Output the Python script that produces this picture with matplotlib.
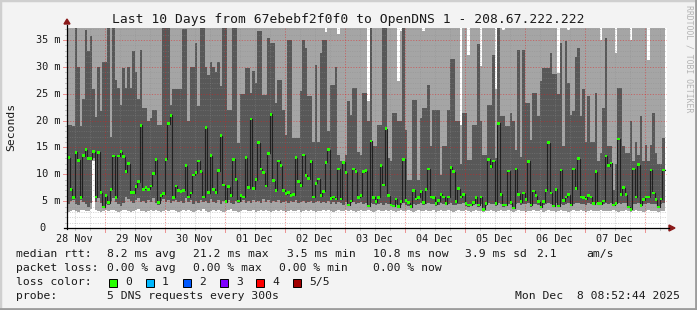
import numpy as np
import matplotlib
matplotlib.use("Agg")
import matplotlib.pyplot as plt
from matplotlib.patches import Rectangle, Polygon

W, H = 697, 310

# hourly columns, 28 Nov 08:52 -> 08 Dec 08:52 (ms)
median = [
    13.1, 7.2, 5.7, 14.1, 12.6, 5.7, 13.5, 14.6, 12.9, 12.9, 14.2, 5.8, 14.1, 6.6, 3.9, 6.0, 4.7, 7.2, 13.4, 5.7, 13.4, 14.2, 13.3, 10.5,
    12.0, 6.6, 6.6, 7.7, 8.6, 19.1, 7.2, 7.5, 7.2, 7.8, 10.1, 12.7, 4.7, 6.0, 6.4, 12.8, 19.4, 21.0, 5.7, 7.8, 7.0, 6.8, 7.0, 11.6,
    5.8, 6.5, 9.9, 10.3, 12.5, 10.5, 5.8, 18.7, 6.6, 13.5, 7.2, 6.6, 10.7, 17.2, 8.0, 4.9, 7.7, 6.0, 12.8, 9.0, 5.0, 6.0, 5.8, 13.1,
    7.5, 20.3, 7.3, 9.0, 15.9, 11.0, 10.3, 7.8, 13.9, 21.2, 8.8, 7.0, 12.5, 11.6, 7.0, 6.4, 6.6, 6.1, 6.2, 13.1, 8.6, 7.9, 13.6, 9.8,
    9.2, 12.4, 5.8, 8.3, 9.1, 6.0, 6.8, 12.2, 14.6, 5.5, 5.8, 5.4, 11.0, 5.4, 12.2, 10.3, 4.3, 5.0, 11.0, 10.5, 5.7, 6.0, 10.5, 10.7,
    4.1, 16.2, 5.7, 4.9, 5.7, 11.6, 8.0, 18.5, 6.0, 4.3, 4.1, 5.4, 4.0, 4.9, 12.8, 5.1, 4.7, 4.0, 7.0, 5.4, 5.7, 6.8, 4.7, 7.2,
    11.0, 5.8, 5.7, 4.5, 5.1, 6.3, 5.8, 4.5, 5.8, 11.3, 10.5, 4.9, 7.3, 5.8, 6.3, 4.5, 4.3, 4.3, 4.7, 5.7, 4.3, 5.8, 3.5, 4.5,
    12.8, 11.4, 12.5, 4.5, 19.5, 6.3, 4.3, 4.3, 10.6, 4.7, 3.7, 11.0, 6.3, 4.9, 6.5, 5.3, 12.4, 4.3, 6.9, 6.0, 4.9, 3.9, 4.9, 7.0,
    15.9, 6.5, 4.1, 7.2, 4.1, 10.8, 5.1, 5.8, 6.2, 4.3, 11.0, 7.3, 12.9, 5.8, 5.7, 5.4, 6.0, 5.8, 4.5, 10.5, 4.5, 4.5, 5.0, 13.4,
    11.6, 12.1, 4.3, 4.6, 16.6, 6.2, 7.5, 6.2, 3.9, 3.5, 11.0, 5.8, 11.8, 4.2, 5.3, 5.8, 5.8, 10.8, 6.5, 5.3, 3.9, 5.4, 10.8,
]
# fastest ping (bottom of smoke)
ping_lo = [
    3.0, 3.2, 3.3, 3.1, 3.0, 3.3, 3.4, 3.2, 3.2, 3.5, 12.5, 3.3, 3.1, 3.0, 3.2, 3.4, 3.1, 3.3, 3.4, 3.2, 3.0, 3.1, 3.3, 3.4,
    3.2, 3.0, 3.1, 3.3, 3.5, 3.2, 3.1, 3.0, 3.2, 3.3, 3.1, 3.4, 3.2, 3.0, 3.1, 3.3, 3.2, 3.4, 3.3, 3.1, 3.0, 3.2, 3.3, 3.1,
    3.4, 3.2, 3.0, 3.1, 3.3, 3.2, 3.5, 3.1, 3.0, 3.2, 3.3, 3.1, 3.4, 3.2, 3.0, 3.1, 3.3, 3.6, 3.2, 3.1, 3.0, 3.2, 3.3, 3.4,
    3.2, 3.1, 3.3, 3.0, 3.2, 3.4, 3.1, 3.3, 3.2, 3.0, 3.1, 3.3, 3.2, 3.4, 3.1, 3.0, 3.2, 3.3, 3.1, 3.2, 3.4, 3.0, 3.1, 3.3,
    3.1, 3.3, 3.2, 3.0, 3.2, 3.1, 3.4, 3.2, 3.3, 3.1, 3.0, 3.2, 3.3, 3.1, 3.2, 3.4, 3.1, 3.3, 3.2, 3.0, 3.1, 3.3, 3.2, 3.1,
    3.3, 3.2, 3.0, 3.1, 3.3, 3.2, 3.1, 3.4, 3.2, 3.3, 3.1, 3.0, 3.2, 3.3, 3.1, 3.2, 3.4, 3.1, 3.0, 3.2, 3.3, 3.1, 3.2, 3.3,
    3.2, 3.1, 3.3, 3.0, 3.2, 3.3, 3.1, 3.2, 3.4, 3.1, 3.0, 3.2, 3.3, 3.1, 3.2, 3.3, 3.1, 3.0, 3.2, 3.3, 3.1, 3.2, 3.0, 3.2,
    3.1, 3.3, 3.2, 3.0, 3.1, 3.3, 3.2, 3.1, 3.4, 3.2, 3.0, 3.1, 3.3, 3.2, 3.1, 3.0, 3.2, 3.1, 3.3, 3.2, 3.1, 3.3, 3.0, 3.2,
    3.3, 3.1, 3.2, 3.0, 3.2, 3.3, 3.1, 3.2, 3.0, 3.1, 3.3, 3.2, 3.1, 3.4, 3.2, 3.0, 3.1, 3.3, 3.2, 3.1, 3.2, 3.3, 3.1, 3.2,
    3.2, 3.1, 3.3, 3.2, 3.0, 3.1, 3.2, 3.3, 3.1, 3.0, 3.2, 3.3, 3.1, 3.2, 3.0, 3.1, 3.3, 3.2, 3.1, 3.2, 3.0, 3.1, 3.2,
]
# second ping (bottom of dark smoke)
ping_q1 = [
    4.5, 5.0, 5.3, 4.4, 4.2, 5.2, 4.8, 4.5, 4.0, 4.6, 13.0, 4.9, 5.5, 4.7, 3.9, 4.4, 4.3, 5.0, 5.5, 4.8, 4.4, 4.1, 4.6, 5.8,
    5.4, 5.0, 4.6, 5.2, 5.6, 4.8, 5.1, 4.7, 5.3, 4.9, 5.5, 4.6, 4.3, 5.0, 5.4, 4.8, 5.2, 4.6, 5.0, 5.3, 4.9, 5.1, 4.7, 5.5,
    4.9, 5.2, 4.5, 5.0, 4.7, 5.3, 4.8, 5.1, 4.6, 5.4, 4.9, 4.7, 5.2, 4.5, 5.0, 4.8, 5.3, 4.6, 4.4, 5.0, 4.7, 4.9, 5.2, 4.6,
    5.0, 4.7, 5.3, 4.8, 5.1, 4.6, 5.4, 4.9, 5.2, 4.7, 5.0, 4.8, 5.3, 4.6, 4.9, 5.1, 4.7, 5.0, 4.8, 5.2, 4.6, 4.9, 5.1, 4.7,
    4.8, 5.0, 4.6, 4.9, 5.1, 4.7, 4.8, 4.6, 5.0, 4.4, 4.8, 4.5, 4.9, 4.6, 4.3, 4.8, 4.5, 4.7, 4.9, 4.4, 4.6, 4.8, 4.5, 4.7,
    3.9, 4.6, 4.4, 4.2, 4.5, 4.7, 4.3, 4.6, 4.4, 4.1, 3.9, 4.4, 3.8, 4.3, 4.6, 4.2, 4.1, 3.8, 4.5, 4.3, 4.4, 4.6, 4.2, 4.5,
    4.7, 4.4, 4.5, 4.1, 4.3, 4.6, 4.5, 4.2, 4.4, 4.6, 4.3, 4.2, 4.5, 4.4, 4.6, 4.1, 4.0, 4.1, 4.3, 4.5, 4.0, 4.4, 3.4, 4.1,
    4.6, 4.4, 4.5, 4.1, 4.7, 4.5, 4.0, 4.1, 4.4, 4.2, 3.6, 4.5, 4.6, 4.3, 4.5, 4.4, 4.6, 4.0, 4.5, 4.4, 4.2, 3.8, 4.3, 4.5,
    4.7, 4.5, 3.9, 4.6, 3.9, 4.4, 4.3, 4.5, 4.6, 4.1, 4.5, 4.7, 4.6, 4.4, 4.5, 4.3, 4.6, 4.5, 4.2, 4.6, 4.2, 4.3, 4.5, 4.6,
    4.5, 4.6, 4.1, 4.3, 4.6, 4.5, 4.7, 4.6, 3.8, 3.4, 4.4, 4.5, 4.6, 4.0, 4.4, 4.5, 4.6, 4.4, 4.5, 4.4, 3.8, 4.5, 4.6,
]
# fourth ping (top of dark smoke)
ping_q3 = [
    19.2, 19.2, 19.0, 40, 30, 19, 24, 36.8, 33, 35.7, 25.8, 20.6, 30, 21.7, 31, 31, 40, 17, 40, 27.6, 26, 23, 29.8, 26,
    30, 26, 33, 29, 24, 33.2, 22.3, 22.3, 20, 20.5, 22, 22, 19.2, 19.2, 40, 40, 40, 23, 25.8, 25.8, 25.8, 25.8, 37, 37,
    19.9, 30, 30, 34.5, 22.8, 40, 40, 30, 28.5, 31, 30, 29, 31, 26.5, 40, 40, 22, 22, 40, 40, 15.8, 25, 25, 29.8,
    29.8, 25.1, 29.3, 27, 36.6, 36.6, 24.8, 24.8, 35.4, 34.5, 34.5, 23.3, 27.6, 27.6, 22, 17.4, 35, 35, 16.7, 16.7, 16.7, 25.5, 35, 33.5,
    24.5, 24.5, 16, 30.3, 16, 32.6, 35, 35, 18, 26.7, 26.7, 30, 13.6, 12.4, 12.4, 13.6, 23.6, 21, 26, 26, 14.2, 13.6, 25.1, 25.1,
    20, 40, 15.2, 15.2, 19.2, 19.2, 40, 40, 13, 12.4, 21.4, 21.4, 19.9, 19.9, 40, 18.3, 9.0, 9.0, 23.9, 23.9, 9.0, 20.5, 22.3, 22.3,
    26.7, 15.2, 22, 22, 22, 9.9, 15.2, 15.2, 22, 31.4, 31.4, 19.9, 19.9, 12, 21.4, 21.4, 12.7, 12.7, 19.2, 19.2, 34.2, 20, 13.6, 13.6,
    23, 23, 32.3, 13, 40, 20.8, 20.8, 19, 19, 21.4, 19.9, 14.5, 33.2, 13.3, 33.2, 23.3, 23.3, 16.4, 25.1, 25.1, 20.8, 27.3, 29.8, 29.8,
    29.8, 32.6, 28.6, 28.6, 25, 34.5, 15.2, 34.9, 27, 21, 21.7, 31.8, 33.5, 20.8, 25.8, 16.1, 24.5, 16.1, 16.1, 25.1, 12.4, 14, 22.3, 35.4,
    15.2, 15.2, 7.0, 12, 26, 26, 15.2, 14, 14, 19.9, 12.4, 16.1, 13.6, 20.8, 12.4, 15.5, 12.4, 15.5, 21.4, 14, 12, 12, 16.7,
]
# slowest ping (top of smoke, 40 = above the chart)
ping_hi = [
    40, 40, 40, 40, 40, 40, 40, 40, 40, 40, 40, 40, 40, 40, 40, 40, 40, 40, 40, 40, 40, 40, 40, 40,
    40, 40, 40, 40, 40, 40, 40, 40, 40, 40, 40, 40, 40, 40, 40, 40, 40, 40, 40, 40, 40, 40, 40, 40,
    40, 40, 40, 40, 40, 40, 40, 40, 40, 40, 40, 40, 40, 40, 40, 40, 40, 40, 40, 40, 40, 40, 40, 40,
    40, 40, 40, 40, 40, 40, 40, 40, 40, 40, 40, 40, 40, 40, 40, 40, 40, 40, 40, 40, 40, 40, 40, 40,
    40, 40, 40, 40, 40, 40, 40, 36.5, 40, 40, 40, 40, 36.2, 40, 40, 40, 40, 40, 40, 40, 40, 40, 40, 40,
    23.6, 40, 40, 40, 40, 40, 40, 40, 40, 40, 40, 40, 27.3, 36.6, 40, 40, 40, 40, 40, 40, 40, 40, 36.6, 40,
    40, 40, 40, 40, 40, 40, 40, 40, 40, 40, 40, 40, 40, 19.2, 40, 40, 32.3, 40, 40, 40, 40, 30.1, 40, 40,
    40, 40, 40, 25.8, 40, 40, 36.8, 40, 40, 40, 40, 40, 40, 40, 40, 40, 40, 40, 40, 40, 40, 40, 40, 40,
    40, 40, 40, 40, 28.9, 40, 40, 40, 36.9, 40, 40, 40, 40, 40, 40, 40, 40, 40, 40, 40, 40, 35.1, 40, 40,
    40, 40, 40, 32.6, 40, 40, 40, 40, 40, 35.1, 40, 40, 40, 40, 40, 40, 31.3, 40, 40, 40, 40, 40, 40,
]

day_labels = ["28 Nov", "29 Nov", "30 Nov", "01 Dec", "02 Dec",
              "03 Dec", "04 Dec", "05 Dec", "06 Dec", "07 Dec"]
y_ticks = [0, 5, 10, 15, 20, 25, 30, 35]
loss_names = ["0", "1", "2", "3", "4", "5/5"]
loss_colors = ["#26ff00", "#00b8ff", "#0059ff", "#7e00ff", "#ff0000", "#a10000"]

med = np.array(median)
hi = np.array(ping_hi)
q3 = np.minimum(np.array(ping_q3), hi)
q1 = np.minimum(np.array(ping_q1), med)
lo = np.minimum(np.array(ping_lo), q1)
n = len(med)
edges = np.arange(n + 1)

YMAX = 37.25
fig = plt.figure(figsize=(W / 100, H / 100), dpi=100)
fig.patch.set_facecolor("#f3f3f3")
ax = fig.add_axes([67 / W, 1 - 228 / H, 600 / W, 200 / H])
ax.set_xlim(0, 240)
ax.set_ylim(0, YMAX)
ax.set_facecolor("white")
for s in ax.spines.values():
    s.set_visible(False)
ax.set_xticks([])
ax.set_yticks([])

ext = lambda a: np.append(a, a[-1])
ax.fill_between(edges, ext(lo), ext(hi), step="post", color="#a5a5a5", lw=0, zorder=1)
ax.fill_between(edges, ext(q1), ext(q3), step="post", color="#585858", lw=0, zorder=2)

# grid (drawn over the smoke like rrdtool does)
dot = (0, (1.2, 1.6))
minor_c = (0.55, 0.55, 0.55, 0.45)
major_c = (0.9, 0.1, 0.1, 0.45)
for v in np.arange(1, 38):
    if v % 5:
        ax.axhline(v, color=minor_c, lw=0.6, ls=dot, zorder=3)
hours = np.arange(3.12, 240, 6)
for h in hours:
    if abs((h - 15.12) % 24) > 0.01:
        ax.axvline(h, color=minor_c, lw=0.6, ls=dot, zorder=3)
for v in y_ticks[1:]:
    ax.axhline(v, color=major_c, lw=0.7, ls=dot, zorder=3)
for h in np.arange(15.12, 240, 24):
    ax.axvline(h, color=major_c, lw=0.7, ls=dot, zorder=3)

# median: black connector steps + green loss blocks
ax.step(edges, ext(med), where="post", color="#202020", lw=0.8, zorder=4)
sw = 0.5
ax.bar(edges[:-1], sw, bottom=med - sw / 2, width=1.0, align="edge",
       color=loss_colors[0], lw=0, zorder=5)

# axes lines, little ticks and arrows
fx = lambda x: x / W
fy = lambda y: 1 - y / H
for v in np.arange(1, 38):
    y = fy(228 - v / YMAX * 200)
    major = v % 5 == 0
    fig.add_artist(plt.Line2D([fx(63 if major else 65), fx(67)], [y, y],
                              color=major_c if major else minor_c, lw=0.7))
for h in hours:
    x = fx(67 + h * 2.5)
    major = abs((h - 15.12) % 24) < 0.01
    fig.add_artist(plt.Line2D([x, x], [fy(228), fy(232 if major else 230)],
                              color=major_c if major else minor_c, lw=0.7))
fig.add_artist(plt.Line2D([fx(67), fx(67)], [fy(229), fy(25)], color="black", lw=0.9))
fig.add_artist(plt.Line2D([fx(64), fx(669)], [fy(228), fy(228)], color="black", lw=0.9))
fig.add_artist(Polygon([(fx(64), fy(24)), (fx(70), fy(24)), (fx(67), fy(19))],
                       closed=True, color="#8b1a1a", transform=fig.transFigure))
fig.add_artist(Polygon([(fx(669), fy(225)), (fx(669), fy(231)), (fx(675), fy(228))],
                       closed=True, color="#8b1a1a", transform=fig.transFigure))

mono = "DejaVu Sans Mono"
for v in y_ticks:
    y = fy(228 - v / YMAX * 200)
    lab = f"{v} m" if v else "0"
    fig.text(fx(60) if v else fx(46), y, lab, ha="right", va="center",
             family=mono, fontsize=7.4, color="#1a1a1a")
for k, lab in enumerate(day_labels):
    h = 3.12 + 24 * k
    fig.text(fx(67 + h * 2.5), fy(238.5), lab, ha="center", va="center",
             family=mono, fontsize=7.3, color="#1a1a1a")

fig.text(fx(348), fy(19), "Last 10 Days from 67ebebf2f0f0 to OpenDNS 1 - 208.67.222.222",
         ha="center", va="center", family=mono, fontsize=9.4, color="#1a1a1a")
fig.text(fx(11), fy(127), "Seconds", rotation=90, ha="center", va="center",
         family=mono, fontsize=8.2, color="#1a1a1a")
fig.text(fx(689), fy(5), "RRDTOOL / TOBI OETIKER", rotation=-90, ha="center", va="top",
         family=mono, fontsize=5.9, color="#b4b4b4")

rows = [
    (254.3, [(16, "median rtt:"), (107, "8.2 ms avg"), (193, "21.2 ms max"), (287, "3.5 ms min"),
             (373, "10.8 ms now"), (465, "3.9 ms sd"), (536, "2.1"), (586, "am/s")]),
    (268.3, [(16, "packet loss:"), (107, "0.00 % avg"), (193, "0.00 % max"), (279, "0.00 % min"),
             (373, "0.00 % now")]),
    (282.3, [(16, "loss color:")]),
    (296.0, [(16, "probe:"), (107, "5 DNS requests every 300s")]),
]
for y, items in rows:
    for x, t in items:
        fig.text(fx(x), fy(y), t, ha="left", va="center", family=mono,
                 fontsize=8.2, color="#1a1a1a")
sq_x = [108.5, 145.5, 182.5, 219.5, 256.0, 292.5]
for x, name, c in zip(sq_x, loss_names, loss_colors):
    fig.add_artist(Rectangle((fx(x), fy(286.5)), 8 / W, 8 / H, transform=fig.transFigure,
                             facecolor=c, edgecolor="black", lw=0.7))
    fig.text(fx(x + 16.5), fy(282.3), name, ha="left", va="center", family=mono,
             fontsize=8.2, color="#1a1a1a")
fig.text(fx(680), fy(296), "Mon Dec  8 08:52:44 2025", ha="right", va="center",
         family=mono, fontsize=8.2, color="#1a1a1a")

# frame of the canvas
fig.add_artist(Rectangle((0, 0), 1, 1, transform=fig.transFigure, fill=False,
                         edgecolor="#cfcfcf", lw=2.5))
fig.add_artist(plt.Line2D([0, 1], [1 / H, 1 / H], color="#9c9c9c", lw=2.0))
fig.add_artist(plt.Line2D([1 - 1 / W, 1 - 1 / W], [0, 1], color="#9c9c9c", lw=2.0))

fig.savefig("out.png", dpi=100, facecolor=fig.get_facecolor())
